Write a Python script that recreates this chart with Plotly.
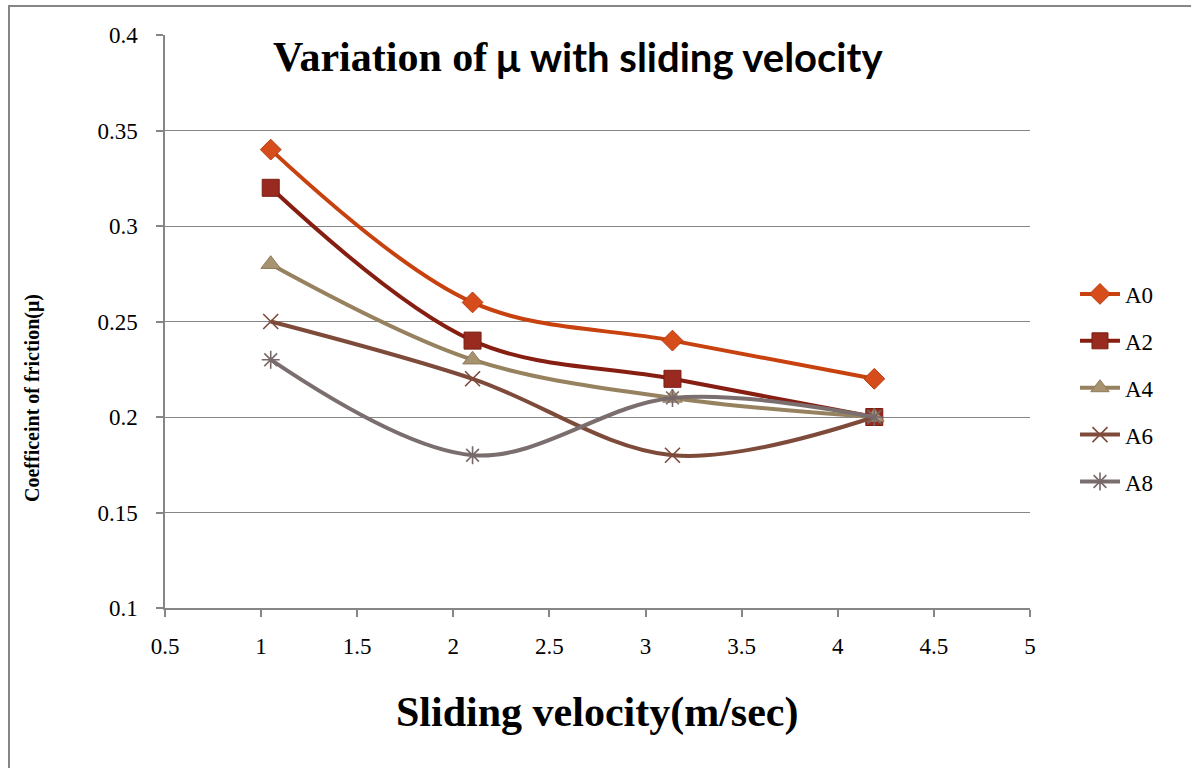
import plotly.graph_objects as go

# Sliding velocity (m/sec) and coefficient of friction for each specimen
velocity = [1.05, 2.1, 3.14, 4.19]
series_names = ["A0", "A2", "A4", "A6", "A8"]
mu_A0 = [0.34, 0.26, 0.24, 0.22]
mu_A2 = [0.32, 0.24, 0.22, 0.20]
mu_A4 = [0.28, 0.23, 0.21, 0.20]
mu_A6 = [0.25, 0.22, 0.18, 0.20]
mu_A8 = [0.23, 0.18, 0.21, 0.20]

x_tickvals = [0.5, 1, 1.5, 2, 2.5, 3, 3.5, 4, 4.5, 5]
x_ticktext = ["0.5", "1", "1.5", "2", "2.5", "3", "3.5", "4", "4.5", "5"]
y_tickvals = [0.1, 0.15, 0.2, 0.25, 0.3, 0.35, 0.4]
y_ticktext = ["0.1", "0.15", "0.2", "0.25", "0.3", "0.35", "0.4"]

styles = {
    "A0": dict(line="#C7420F", fill="#D64C1A", edge="#B53A0E", symbol="diamond", size=16, lw=1),
    "A2": dict(line="#861E12", fill="#982A1F", edge="#7A1E12", symbol="square", size=17, lw=1),
    "A4": dict(line="#978260", fill="#A89371", edge="#8E7C5C", symbol="triangle-up", size=17, lw=1),
    "A6": dict(line="#7E4B3B", fill="#7E4B3B", edge="#7E4B3B", symbol="x-thin-open", size=15, lw=1.6),
    "A8": dict(line="#7A6E6E", fill="#77696A", edge="#77696A", symbol="asterisk-open", size=15, lw=1.6),
}
values = {"A0": mu_A0, "A2": mu_A2, "A4": mu_A4, "A6": mu_A6, "A8": mu_A8}

grid = "#868686"
serif = "serif"
sans = "Lato"

# plot area spans 165..1030 px horizontally, 35..608 px vertically
def px_x(px):
    return (px - 165) / 865

def px_y(py):
    return (608 - py) / 573

fig = go.Figure()
for name in series_names:
    s = styles[name]
    fig.add_trace(go.Scatter(
        x=velocity, y=values[name], name=name, legendgroup=name,
        mode="lines+markers",
        line=dict(color=s["line"], width=4, shape="spline", smoothing=1),
        marker=dict(symbol=s["symbol"], size=s["size"], color=s["fill"],
                    line=dict(color=s["edge"], width=s["lw"])),
    ))

fig.update_layout(
    width=1191, height=768,
    margin=dict(l=165, r=161, t=35, b=160),
    paper_bgcolor="white", plot_bgcolor="white",
    font=dict(family=serif, size=23, color="black"),
    showlegend=True,
    legend=dict(x=1.052, y=0.384, xanchor="left", yanchor="middle",
                font=dict(size=23),
                tracegroupgap=14, itemwidth=40, bgcolor="rgba(0,0,0,0)"),
    xaxis=dict(range=[0.5, 5], tickvals=x_tickvals, ticktext=x_ticktext,
               showgrid=False, zeroline=False, showline=True, linecolor=grid, linewidth=1.5,
               ticks="outside", ticklen=7, tickcolor=grid, tickwidth=1.5,
               ticklabelstandoff=10),
    yaxis=dict(range=[0.1, 0.4], tickvals=y_tickvals, ticktext=y_ticktext,
               showgrid=True, gridcolor=grid, gridwidth=1.3, zeroline=False,
               showline=True, linecolor=grid, linewidth=1.5,
               ticks="outside", ticklen=7, tickcolor=grid, tickwidth=1.5,
               ticklabelstandoff=14),
    shapes=[dict(type="rect", xref="paper", yref="paper",
                 x0=px_x(9), y0=-0.4, x1=1.3, y1=px_y(6),
                 line=dict(color=grid, width=2), layer="below")],
    annotations=[
        dict(xref="paper", yref="paper", x=px_x(490), y=px_y(57), showarrow=False,
             xanchor="right", yanchor="middle",
             text="Variation of",
             font=dict(family=serif, size=42, color="black", weight="bold")),
        dict(xref="paper", yref="paper", x=px_x(494), y=px_y(57), showarrow=False,
             xanchor="left", yanchor="middle",
             text="μ with sliding velocity",
             font=dict(family=sans, size=40, color="black", weight="bold")),
        dict(xref="paper", yref="paper", x=px_x(597), y=px_y(712), showarrow=False,
             xanchor="center", yanchor="middle",
             text="Sliding velocity(m/sec)",
             font=dict(family=serif, size=42, color="black", weight="bold")),
        dict(xref="paper", yref="paper", x=px_x(33), y=px_y(398), showarrow=False,
             xanchor="center", yanchor="middle", textangle=-90,
             text="Coefficeint of friction(μ)",
             font=dict(family=serif, size=20, color="black", weight="bold")),
    ],
)

fig.write_html("out.html")
